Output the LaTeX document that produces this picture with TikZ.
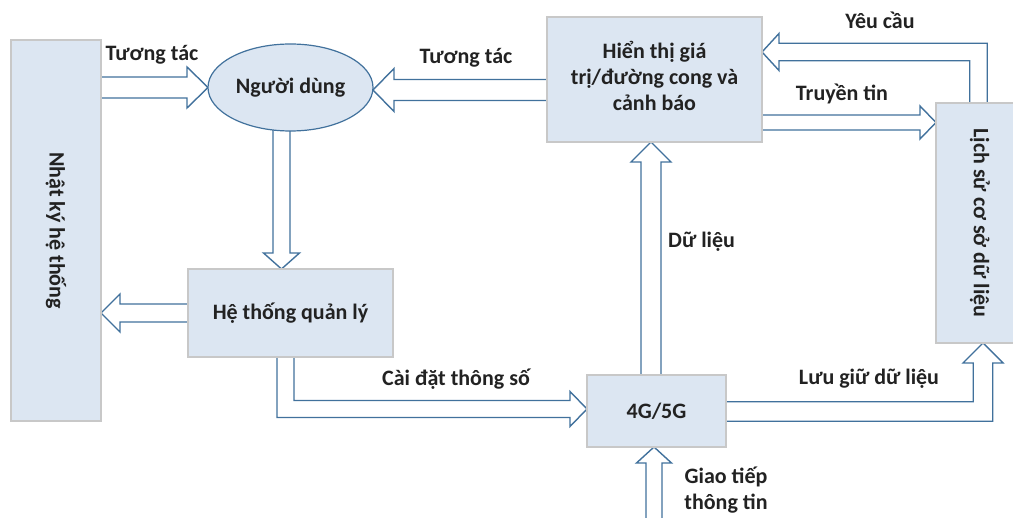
\documentclass[tikz,border=0pt]{standalone}
\usepackage{fontspec}
\setmainfont{Carlito}
\usepackage{graphicx}
\usetikzlibrary{calc,shapes.geometric,backgrounds}

\definecolor{boxfill}{HTML}{DCE6F2}
\definecolor{boxline}{HTML}{C8C8C8}
\definecolor{arrowline}{HTML}{41719C}
\definecolor{ink}{HTML}{222222}

\begin{document}
\begin{tikzpicture}[x=1pt,y=-1pt,
  txt/.style={font=\fontsize{22}{26}\selectfont\bfseries, text=ink},
  box/.style={txt, rectangle, draw=boxline, line width=1.2pt, fill=boxfill,
    inner sep=0pt, outer sep=0pt, align=center},
  lbl/.style={txt, inner sep=0pt, align=center},
  arrowbody/.style={draw=arrowline, fill=white, line width=1.4pt,
    line join=miter, miter limit=10},
  % hollow block arrow: #1 half shaft width, #2 half head width, #3 head length
  blockarrow/.style n args={3}{arrowbody, to path={
       ($(\tikztostart)!#1!90:(\tikztotarget)$)
    -- ($(\tikztotarget)!#3!(\tikztostart)!#1!-90:(\tikztostart)$)
    -- ($(\tikztotarget)!#3!(\tikztostart)!#2!-90:(\tikztostart)$)
    -- (\tikztotarget)
    -- ($(\tikztotarget)!#3!(\tikztostart)!#2!90:(\tikztostart)$)
    -- ($(\tikztotarget)!#3!(\tikztostart)!#1!90:(\tikztostart)$)
    -- ($(\tikztostart)!#1!-90:(\tikztotarget)$)}}
]
\useasboundingbox (0,0) rectangle (1013,518);

% blocks
\node[box, minimum width=90pt, minimum height=381pt] (nk) at (56,230.5)
  {\rotatebox{-90}{Nhật ký hệ thống}};
\node[box, ellipse, draw=arrowline, minimum width=165pt, minimum height=87pt]
  (user) at (290.5,87.5) {Người dùng};
\node[box, minimum width=215pt, minimum height=125pt, text depth=8pt]
  (disp) at (654.5,79.5) {Hiển thị giá\\trị/đường cong và\\cảnh báo};
\node[box, minimum width=88pt, minimum height=240pt] (ls) at (980,223)
  {\rotatebox{-90}{Lịch sử cơ sở dữ liệu}};
\node[box, minimum width=205pt, minimum height=88pt] (hql) at (290.5,313)
  {Hệ thống quản lý};
\node[box, minimum width=139pt, minimum height=72pt] (net) at (656.5,411)
  {4G/5G};

% connector labels
\node[lbl] (l1) at (152,55) {Tương tác};
\node[lbl] (l2) at (466,58) {Tương tác};
\node[lbl] (l3) at (880,20) {Yêu cầu};
\node[lbl] (l4) at (842,94) {Truyền tin};
\node[lbl, anchor=west] (l5) at (668,242) {Dữ liệu};
\node[lbl] (l6) at (456,379) {Cài đặt thông số};
\node[lbl] (l7) at (869,379) {Lưu giữ dữ liệu};
\node[lbl] (l8) at (726,490) {Giao tiếp\\thông tin};

\begin{scope}[on background layer]
  % straight arrows
  \coordinate (a1s) at (nk.east |- user.west);
  \draw[blockarrow={10.5pt}{20.5pt}{21pt}] (a1s) to (user.west);

  \coordinate (a2t) at ($(user.east)+(0,2.5)$);
  \coordinate (a2s) at (disp.west |- a2t);
  \draw[blockarrow={10.5pt}{21.5pt}{21pt}] (a2s) to (a2t);

  \coordinate (a3s) at ($(user.south)+(-9,-10)$);
  \coordinate (a3t) at (a3s |- hql.north);
  \draw[blockarrow={8.5pt}{18pt}{16pt}] (a3s) to (a3t);

  \coordinate (a4t) at (nk.east |- hql.west);
  \draw[blockarrow={9pt}{19pt}{19pt}] (hql.west) to (a4t);

  \coordinate (a6s) at ($(net.north)+(-5.5,0)$);
  \coordinate (a6t) at (a6s |- disp.south);
  \draw[blockarrow={10pt}{20pt}{20pt}] (a6s) to (a6t);

  \coordinate (a7s) at ($(disp.east)+(0,43)$);
  \coordinate (a7t) at (ls.west |- a7s);
  \draw[blockarrow={7.5pt}{16.5pt}{16pt}] (a7s) to (a7t);

  \coordinate (a10t) at ($(net.south)+(-2.5,0)$);
  \coordinate (a10s) at ($(a10t)+(0,100)$);
  \draw[blockarrow={8pt}{17.5pt}{16pt}] (a10s) to (a10t);

  % elbow arrow: management system -> 4G/5G
  \coordinate (a5s) at ($(hql.south)+(-5,-5)$);
  \coordinate (a5t) at ($(net.west)+(0,-2)$);
  \coordinate (a5c) at (a5s |- a5t);
  \draw[arrowbody]
       ($(a5s)+(-8.5,0)$) -- ($(a5c)+(-8.5,8.5)$) -- ($(a5t)+(-17,8.5)$)
    -- ($(a5t)+(-17,17.5)$) -- (a5t) -- ($(a5t)+(-17,-17.5)$)
    -- ($(a5t)+(-17,-8.5)$) -- ($(a5c)+(8.5,-8.5)$) -- ($(a5s)+(8.5,0)$);

  % elbow arrow: database history -> display (request)
  \coordinate (a8s) at ($(ls.north)+(-1.5,5)$);
  \coordinate (a8t) at ($(disp.east)+(0,-27.5)$);
  \coordinate (a8c) at (a8s |- a8t);
  \draw[arrowbody]
       ($(a8s)+(8.75,0)$) -- ($(a8c)+(8.75,-8.75)$) -- ($(a8t)+(17,-8.75)$)
    -- ($(a8t)+(17,-18.5)$) -- (a8t) -- ($(a8t)+(17,18.5)$)
    -- ($(a8t)+(17,8.75)$) -- ($(a8c)+(-8.75,8.75)$) -- ($(a8s)+(-8.75,0)$);

  % elbow arrow: 4G/5G -> database history (storage)
  \coordinate (a9s) at ($(net.east)+(-5,0.5)$);
  \coordinate (a9t) at ($(ls.south)+(3,0)$);
  \coordinate (a9c) at (a9t |- a9s);
  \draw[arrowbody]
       ($(a9s)+(0,-9.75)$) -- ($(a9c)+(-9.75,-9.75)$) -- ($(a9t)+(-9.75,20)$)
    -- ($(a9t)+(-20,20)$) -- (a9t) -- ($(a9t)+(20,20)$)
    -- ($(a9t)+(9.75,20)$) -- ($(a9c)+(9.75,9.75)$) -- ($(a9s)+(0,9.75)$);
\end{scope}
\end{tikzpicture}
\end{document}
